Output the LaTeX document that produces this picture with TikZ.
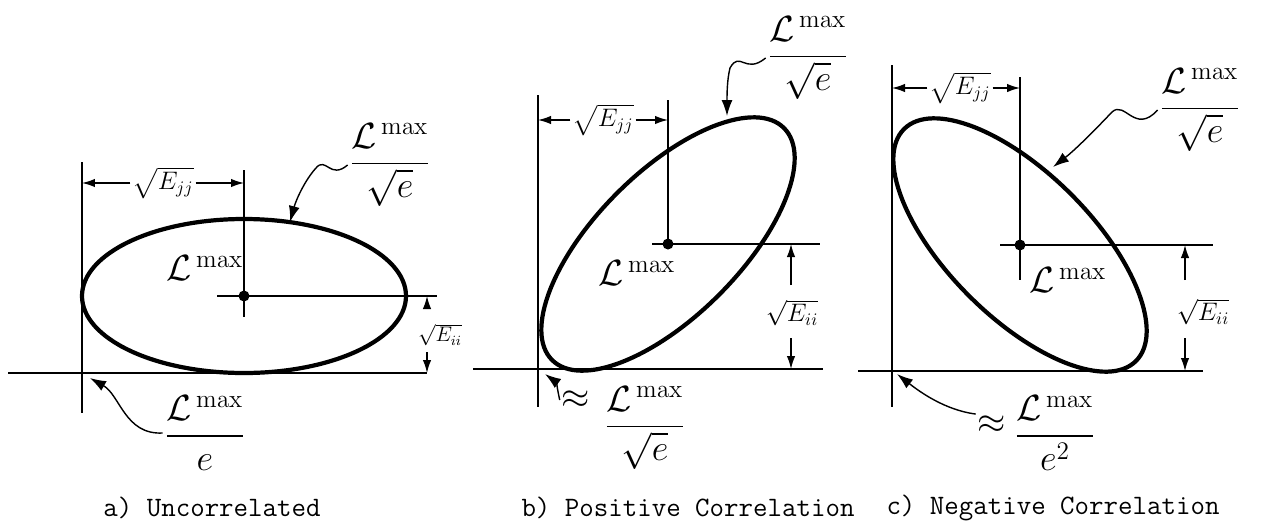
\documentclass[tikz,border=0pt]{standalone}
\usepackage{amsmath}
\usetikzlibrary{arrows.meta}

\begin{document}
\begin{tikzpicture}[x=0.02cm, y=-0.02cm,
  axis/.style={line width=1.3pt},
  ell/.style={line width=2.4pt},
  guide/.style={line width=0.8pt},
  dim/.style={-{Latex[length=2.6mm,width=1.7mm]}, line width=0.8pt},
  lead/.style={-{Latex[length=3.2mm,width=2.2mm]}, line width=0.8pt},
  ctr/.style={circle, fill, inner sep=0pt, minimum size=2.2mm},
  lab/.style={font=\huge, inner sep=1pt},
  dimlab/.style={font=\Large, inner sep=1pt},
  captxt/.style={font=\ttfamily\fontsize{16}{19}\selectfont}
]
\useasboundingbox (0,0) rectangle (1271,531);

% a) uncorrelated
\coordinate (oa) at (82,373);
\draw[axis] (82,162) -- (82,413);
\draw[axis] (8,373) -- (427,373);
\draw[ell] (244,296) ellipse [x radius=162, y radius=77];
\node[ctr] (ca) at (244,296) {};
\draw[guide] (244,170) -- (244,317);
\draw[guide] (217,296) -- (437,296);
\node[dimlab] (ja) at (163,183) {$\sqrt{E_{jj}}$};
\draw[dim] (ja.west) -- (ja.west -| oa);
\draw[dim] (ja.east) -- (ja.east -| ca);
\node[dimlab, font=\large] (ia) at (440,335) {$\sqrt{E_{ii}}$};
\coordinate (ia1) at (427,306);
\coordinate (ia2) at (427,352);
\draw[dim] (ia1) -- (ia1 |- ca);
\draw[dim] (ia2) -- (ia2 |- oa);
\node[lab] (lta) at (390,165) {$\dfrac{\mathcal{L}^{\,\max}}{\sqrt{e}}$};
\coordinate (ta1) at (290,222);
\draw[lead] (lta.west) .. controls (330,180) and (326,156) .. (316,168)
  .. controls (305,180) and (296,200) .. (ta1);
\node[lab] (Lca) at (205,268) {$\mathcal{L}^{\,\max}$};
\node[lab] (lba) at (205,433) {$\dfrac{\mathcal{L}^{\,\max}}{e}$};
\coordinate (ta2) at (90,378);
\draw[lead] (lba.west) .. controls (125,435) and (120,395) .. (ta2);
\node[captxt] (capa) at (212,508) {a) Uncorrelated};

% b) positive correlation
\coordinate (ob) at (538,369);
\draw[axis] (538,95) -- (538,407);
\draw[axis] (473,369) -- (823,369);
\coordinate (cb) at (668,244);
\draw[ell, rotate around={45:(cb)}] (cb) ellipse [x radius=164, y radius=72];
\node[ctr] at (cb) {};
\draw[guide] (cb) -- (668,100);
\draw[guide] (652,244) -- (820,244);
\node[dimlab] (jb) at (603,120) {$\sqrt{E_{jj}}$};
\draw[dim] (jb.west) -- (jb.west -| ob);
\draw[dim] (jb.east) -- (jb.east -| cb);
\node[dimlab] (ib) at (792,313) {$\sqrt{E_{ii}}$};
\coordinate (ib1) at (791,285);
\coordinate (ib2) at (791,338);
\draw[dim] (ib1) -- (ib1 |- cb);
\draw[dim] (ib2) -- (ib2 |- ob);
\node[lab] (ltb) at (808,58) {$\dfrac{\mathcal{L}^{\,\max}}{\sqrt{e}}$};
\coordinate (tb1) at (727,116);
\draw[lead] (ltb.west) .. controls (745,75) and (740,50) .. (730,68)
  .. controls (727,80) and (727,95) .. (tb1);
\node[lab] (Lcb) at (637,273) {$\mathcal{L}^{\,\max}$};
\node[lab] (apb) at (576,400) {$\approx$};
\node[lab] (lbb) at (645,428) {$\dfrac{\mathcal{L}^{\,\max}}{\sqrt{e}}$};
\coordinate (tb2) at (545,374);
\draw[lead] (apb.west) .. controls (558,392) and (556,382) .. (tb2);
\node[captxt] (capb) at (688,508) {b) Positive Correlation};

% c) negative correlation
\coordinate (oc) at (892,371);
\draw[axis] (892,65) -- (892,407);
\draw[axis] (858,371) -- (1203,371);
\coordinate (cc) at (1020,245);
\draw[ell, rotate around={-45:(cc)}] (cc) ellipse [x radius=164, y radius=72];
\node[ctr] at (cc) {};
\draw[guide] (1020,77) -- (1020,280);
\draw[guide] (1000,245) -- (1213,245);
\node[dimlab] (jc) at (960,88) {$\sqrt{E_{jj}}$};
\draw[dim] (jc.west) -- (jc.west -| oc);
\draw[dim] (jc.east) -- (jc.east -| cc);
\node[dimlab] (ic) at (1203,312) {$\sqrt{E_{ii}}$};
\coordinate (ic1) at (1185,280);
\coordinate (ic2) at (1185,338);
\draw[dim] (ic1) -- (ic1 |- cc);
\draw[dim] (ic2) -- (ic2 |- oc);
\node[lab] (ltc) at (1200,110) {$\dfrac{\mathcal{L}^{\,\max}}{\sqrt{e}}$};
\coordinate (tc1) at (1053,167);
\draw[lead] (ltc.west) .. controls (1135,135) and (1125,100) .. (1112,112)
  .. controls (1095,130) and (1075,150) .. (tc1);
\node[lab] (Lcc) at (1068,280) {$\mathcal{L}^{\,\max}$};
\node[lab] (apc) at (992,425) {$\approx$};
\node[lab] (lbc) at (1055,433) {$\dfrac{\mathcal{L}^{\,\max}}{e^{2}}$};
\coordinate (tc2) at (897,374);
\draw[lead] (apc.north west) .. controls (945,410) and (920,392) .. (tc2);
\node[captxt] (capc) at (1053,508) {c) Negative Correlation};
\end{tikzpicture}
\end{document}
